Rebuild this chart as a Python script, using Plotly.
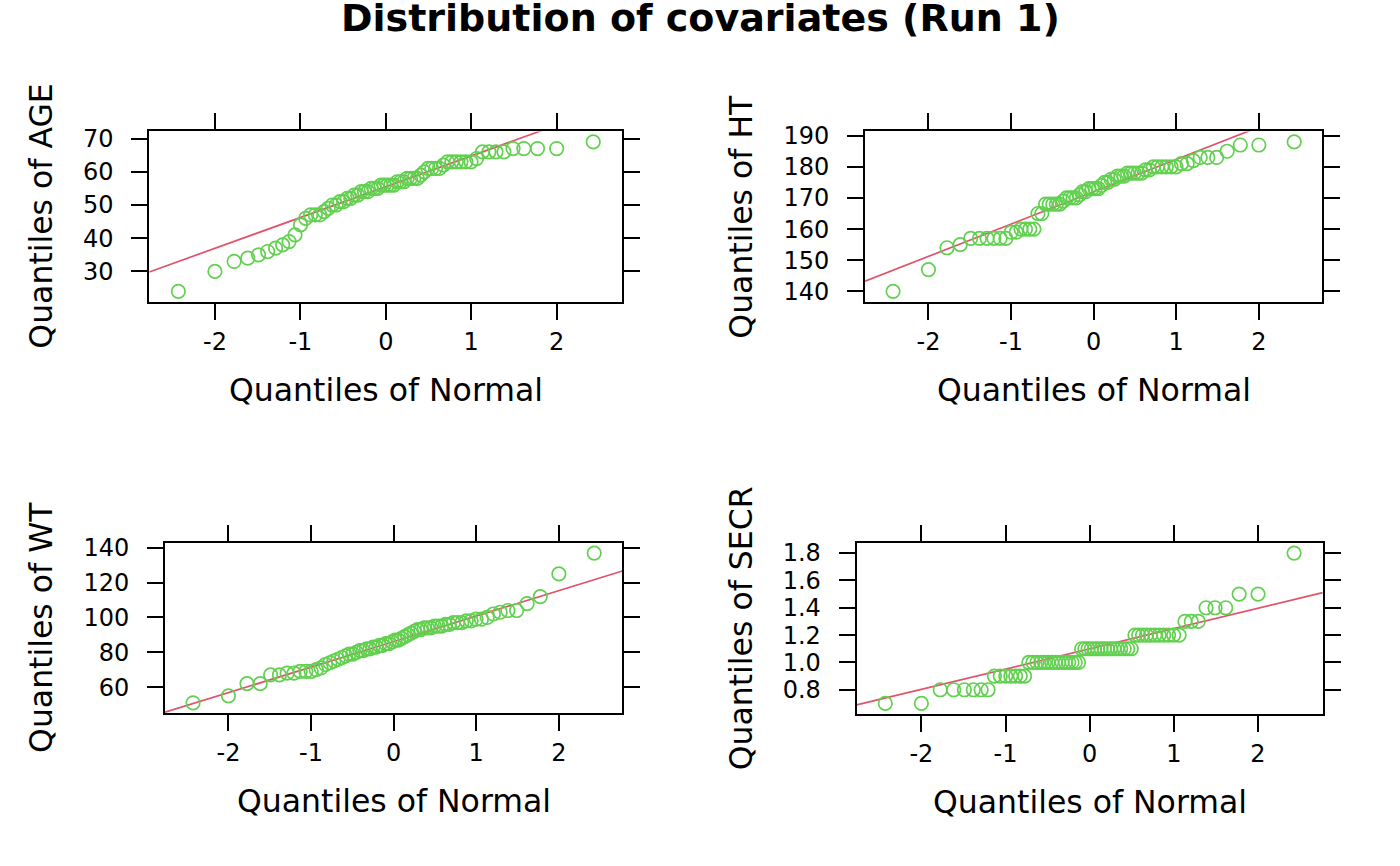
import numpy as np
import plotly.graph_objects as go
from statistics import NormalDist

# ---- data (sorted sample values) ----
AGE = [24, 30, 33, 34, 35, 36, 37, 38, 39, 41, 44, 46, 47, 47, 47, 48, 49, 50, 50, 51,
       51, 52, 52, 53, 53, 54, 54, 54, 55, 55, 55, 56, 56, 56, 56, 56, 57, 57, 57, 58,
       58, 58, 58, 59, 60, 61, 61, 61, 61, 62, 63, 63, 63, 63, 63, 63, 64, 66, 66, 66,
       66, 67, 67, 67, 67, 69]
HT = [140, 147, 154, 155, 157, 157, 157, 157, 157, 157, 159, 159, 160, 160, 160, 160,
      165, 165, 168, 168, 168, 168, 168, 169, 170, 170, 170, 170, 171, 172, 172, 173,
      173, 173, 173, 174, 175, 175, 176, 176, 177, 177, 177, 178, 178, 178, 178, 178,
      179, 179, 180, 180, 180, 180, 180, 180, 181, 181, 182, 183, 183, 183, 185, 187,
      187, 188]
WT = [51, 55, 62, 62, 67, 67, 68, 68, 69, 69, 69, 70, 71, 73, 74, 75, 76, 77, 78, 79,
      79, 80, 81, 81, 82, 82, 83, 83, 84, 84, 85, 85, 86, 87, 87, 88, 89, 90, 91, 92,
      93, 93, 94, 94, 94, 95, 95, 95, 96, 96, 97, 97, 97, 98, 98, 99, 99, 100, 102, 103,
      104, 104, 108, 112, 125, 137]
SECR = [0.7] * 2 + [0.8] * 6 + [0.9] * 7 + [1.0] * 15 + [1.1] * 16 + [1.2] * 11 + \
       [1.3] * 3 + [1.4] * 3 + [1.5] * 2 + [1.8] * 1

covariates = ["AGE", "HT", "WT", "SECR"]
x_ticks = [-2, -1, 0, 1, 2]
x_tick_labels = ["-2", "-1", "0", "1", "2"]
age_ticks = [30, 40, 50, 60, 70]
ht_ticks = [140, 150, 160, 170, 180, 190]
wt_ticks = [60, 80, 100, 120, 140]
secr_ticks = [0.8, 1.0, 1.2, 1.4, 1.6, 1.8]
secr_tick_labels = ["0.8", "1.0", "1.2", "1.4", "1.6", "1.8"]

title_text = "Distribution of covariates (Run 1)"
xlab = "Quantiles of Normal"

# ---- styling ----
W, H = 1400, 866
PT_COL = "#61D04F"
LN_COL = "#DF536B"
FONT = "DejaVu Sans"

# panel boxes in pixels (left, right, top, bottom)
boxes = [(149.3, 622.3, 124.3, 297.3),
         (865.0, 1322.3, 124.3, 297.3),
         (165.0, 622.3, 541.7, 715.0),
         (856.7, 1322.7, 541.7, 715.7)]
ytitle_x = [41, 741, 41, 741]

series = [AGE, HT, WT, SECR]
yticks = [(age_ticks, None), (ht_ticks, None), (wt_ticks, None), (secr_ticks, secr_tick_labels)]

nd = NormalDist()
fig = go.Figure()
annotations = []

for k, (name, vals, box, (tv, tt)) in enumerate(zip(covariates, series, boxes, yticks)):
    v = np.sort(np.asarray(vals, dtype=float))
    n = len(v)
    a = 3.0 / 8 if n <= 10 else 0.5
    p = (np.arange(1, n + 1) - a) / (n + 1 - 2 * a)
    xq = np.array([nd.inv_cdf(pp) for pp in p])

    xlo, xhi = xq.min(), xq.max()
    xr = [xlo - 0.07 * (xhi - xlo), xhi + 0.07 * (xhi - xlo)]
    ylo, yhi = v.min(), v.max()
    yr = [ylo - 0.07 * (yhi - ylo), yhi + 0.07 * (yhi - ylo)]

    q1, q3 = np.percentile(v, [25, 75])
    z1, z3 = nd.inv_cdf(0.25), nd.inv_cdf(0.75)
    slope = (q3 - q1) / (z3 - z1)
    icpt = q1 - slope * z1
    lx = np.array(xr)
    ly = icpt + slope * lx

    ax = "" if k == 0 else str(k + 1)
    xa, ya = "x" + ax, "y" + ax

    fig.add_trace(go.Scatter(x=lx, y=ly, mode="lines", xaxis=xa, yaxis=ya,
                             line=dict(color=LN_COL, width=1.7), showlegend=False,
                             hoverinfo="skip"))
    fig.add_trace(go.Scatter(x=xq, y=v, mode="markers", xaxis=xa, yaxis=ya,
                             marker=dict(symbol="circle-open", size=13.5, color=PT_COL,
                                         line=dict(color=PT_COL, width=1.7)),
                             showlegend=False, cliponaxis=False))

    l, r, t, b = box
    common = dict(showline=True, linecolor="black", linewidth=2, mirror="ticks",
                  ticks="outside", ticklen=16, tickwidth=2, tickcolor="black",
                  showgrid=False, zeroline=False,
                  tickfont=dict(family=FONT, size=24, color="black"))
    fig.layout["xaxis" + ax] = dict(common, domain=[l / W, r / W], range=xr,
                                    anchor=ya, tickvals=x_ticks, ticktext=x_tick_labels,
                                    ticklabelstandoff=1)
    yd = dict(common, domain=[1 - b / H, 1 - t / H], range=yr, anchor=xa,
              tickvals=tv, ticklabelstandoff=13)
    if tt is not None:
        yd["ticktext"] = tt
    fig.layout["yaxis" + ax] = yd

    # axis titles
    annotations.append(dict(text=xlab, xref="paper", yref="paper",
                            x=(l + r) / 2 / W, y=1 - (b + 89) / H,
                            xanchor="center", yanchor="middle", showarrow=False,
                            font=dict(family=FONT, size=31.5, color="black")))
    annotations.append(dict(text="Quantiles of " + name, xref="paper", yref="paper",
                            x=ytitle_x[k] / W,
                            y=1 - (t + b) / 2 / H, textangle=-90,
                            xanchor="center", yanchor="middle", showarrow=False,
                            font=dict(family=FONT, size=31.5, color="black")))

annotations.append(dict(text="<b>" + title_text + "</b>", xref="paper", yref="paper",
                        x=0.5, y=1 - 9 / H, xanchor="center", yanchor="middle",
                        showarrow=False, font=dict(family=FONT, size=38, color="black")))

fig.update_layout(width=W, height=H, margin=dict(l=0, r=0, t=0, b=0),
                  plot_bgcolor="white", paper_bgcolor="white",
                  annotations=annotations, font=dict(family=FONT, color="black"))

fig.write_html("out.html", config={"displayModeBar": False},
               post_script="document.body.style.margin='0px';"
                           "document.body.style.overflow='hidden';")
